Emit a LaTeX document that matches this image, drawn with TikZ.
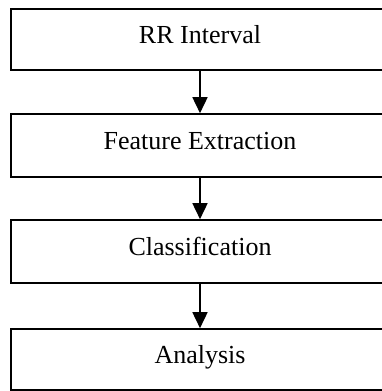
\documentclass[tikz,border=0pt]{standalone}
\usepackage{fontspec}
\setmainfont{Liberation Serif}
\usetikzlibrary{arrows.meta}
\begin{document}
\begin{tikzpicture}[x=1pt,y=-1pt,
  stagebox/.style={draw, line width=1.6pt, minimum width=378pt, inner sep=0pt,
    font=\fontsize{26}{30}\selectfont, text depth=10pt, text height=18pt},
  flowarrow/.style={line width=1.6pt, -{Triangle[length=16pt,width=15pt]}}]
\useasboundingbox (0,0) rectangle (382,391);
\node[stagebox, minimum height=61pt] (rr) at (200,39.5) {RR Interval};
\node[stagebox, minimum height=63pt] (fe) at (200,145.5) {Feature Extraction};
\node[stagebox, minimum height=63pt] (cl) at (200,251.5) {Classification};
\node[stagebox, minimum height=61pt] (an) at (200,359.5) {Analysis};
\draw[flowarrow] (rr.south) -- (fe.north);
\draw[flowarrow] (fe.south) -- (cl.north);
\draw[flowarrow] (cl.south) -- (an.north);
\end{tikzpicture}
\end{document}
